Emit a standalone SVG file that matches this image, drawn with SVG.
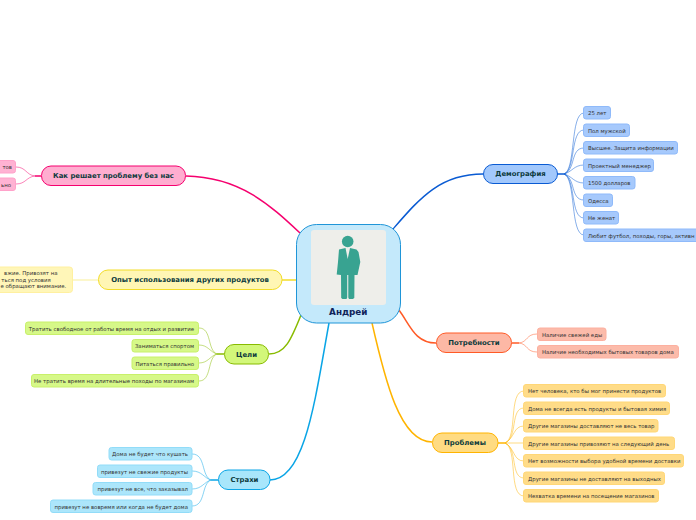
<svg xmlns="http://www.w3.org/2000/svg" width="696" height="520" viewBox="0 0 696 520">
<style>
text{font-family:"DejaVu Sans",Verdana,sans-serif}
.t{font-size:6.9px;font-weight:700;fill:#0c3a3c;text-anchor:middle}
.l{font-size:5.4px;fill:#333}
.r{text-anchor:end}
.n{stroke-width:1}
.c{fill:none;stroke-width:1.5}
.s{fill:none;stroke-width:.9;opacity:.55}
.b{stroke:#0a5bd3}.bf{fill:#a2c8fc}.bl{fill:#a6c9fc;stroke:#8fbafa}
.o{stroke:#ff5a26}.of{fill:#fdb8a5}.ol{fill:#fcbbaa;stroke:#fcb0a0}
.y{stroke:#ffb400}.yf{fill:#ffdb82}.yl{fill:#ffdc88;stroke:#ffd777}
.p{stroke:#f5006e}.pf{fill:#ffadd0}.pl{fill:#ffb2d3;stroke:#ffa2ca}
.e{stroke:#f2dc28}.ef{fill:#fff6b4}.el{fill:#fff6b8;stroke:#fff0a0}
.g{stroke:#88bb00}.gf{fill:#d2f77a}.gl{fill:#d6f888;stroke:#c8f06a}
.u{stroke:#0aa5e6}.uf{fill:#a8e6fb}.ul{fill:#ace6fb;stroke:#92dcf8}
</style>
<g id="connectors">
<path class="c b" d="M393 229C420 198 440 174 483 174"/>
<path class="c p" d="M300 233C270 205 240 177 186 176"/>
<path class="c e" d="M297 280L282 280"/>
<path class="c g" d="M301 315C291 340 285 354 269 354"/>
<path class="c u" d="M329 323C315 400 305 480 270 480"/>
<path class="c y" d="M372 323C385 380 400 442 432 442"/>
<path class="c o" d="M399 310C410 325 415 343 436 343"/>
<path class="c b" d="M557 174L564 174"/>
<g class="b">
<path class="s" d="M564 174C576 170 570 113 584 113"/>
<path class="s" d="M564 174C576 170 570 130 584 130"/>
<path class="s" d="M564 174C576 170 570 148 584 148"/>
<path class="s" d="M564 174C572 172 574 165 584 165"/>
<path class="s" d="M564 174C572 176 574 183 584 183"/>
<path class="s" d="M564 174C576 178 570 200 584 200"/>
<path class="s" d="M564 174C576 178 570 218 584 218"/>
<path class="s" d="M564 174C576 178 570 235 584 235"/>
</g>
<path class="c o" d="M512 343L519 343"/>
<g class="o">
<path class="s" d="M519 343C528 342 526 334 537 334"/>
<path class="s" d="M519 343C528 344 526 352 537 352"/>
</g>
<path class="c y" d="M498 443L505 443"/>
<g class="y">
<path class="s" d="M505 443C518 438 508 391 524 391"/>
<path class="s" d="M505 443C518 438 510 408 524 408"/>
<path class="s" d="M505 443C515 438 513 426 524 426"/>
<path class="s" d="M505 443L524 443"/>
<path class="s" d="M505 443C515 448 513 461 524 461"/>
<path class="s" d="M505 443C518 448 510 478 524 478"/>
<path class="s" d="M505 443C518 448 508 496 524 496"/>
</g>
<path class="c p" d="M41 176L35 176"/>
<g class="p">
<path class="s" d="M35 176C26 175 26 167 16 167"/>
<path class="s" d="M35 176C26 177 26 184 16 184"/>
</g>
<path class="s e" d="M98 280L73 280"/>
<path class="c g" d="M224 354L217 354"/>
<g class="g">
<path class="s" d="M217 354C207 350 212 328 199 328"/>
<path class="s" d="M217 354C210 352 208 345 199 345"/>
<path class="s" d="M217 354C210 356 208 363 199 363"/>
<path class="s" d="M217 354C207 358 212 381 199 381"/>
</g>
<path class="c u" d="M218 480L211 480"/>
<g class="u">
<path class="s" d="M211 480C201 476 206 454 192 454"/>
<path class="s" d="M211 480C204 478 202 471 192 471"/>
<path class="s" d="M211 480C204 482 202 489 192 489"/>
<path class="s" d="M211 480C201 484 206 506 192 506"/>
</g>
</g>
<g id="center">
<rect x="296.500" y="224.500" width="104" height="98.500" rx="20" fill="#c4e9fb" stroke="#1f95d8"/>
<rect x="311" y="230" width="75" height="75" rx="3" fill="#eeeeea"/>
<g fill="#38a391">
<circle cx="347.700" cy="241.500" r="5.800"/>
<path d="M339 249.500L345.500 248L347.700 259L350 248L356.500 249.500L358.500 252L360.300 262L357.500 275L354.500 275L354.300 298L352.800 299H349L348.300 297.500V275H347.200V297.500L346.500 299H342.500L341.200 298L341 275L336.700 274.500L338 262Z"/>
</g>
<text x="348.300" y="315" font-size="8.800" font-weight="700" fill="#10245a" text-anchor="middle">Андрей</text>
</g>
<g id="demography">
<rect class="n b bf" x="483.500" y="164.500" width="74" height="19" rx="9.500"/>
<text class="t" x="520.500" y="176">Демография</text>
<rect class="n bl" x="583.500" y="106.500" width="27" height="12.500" rx="2.500"/><text class="l" x="588" y="115">25 лет</text>
<rect class="n bl" x="583.500" y="124" width="46" height="12.500" rx="2.500"/><text class="l" x="588" y="132.500">Пол мужской</text>
<rect class="n bl" x="583.500" y="141.500" width="94" height="12.500" rx="2.500"/><text class="l" x="588" y="150">Высшее. Защита информации</text>
<rect class="n bl" x="583.500" y="159" width="70" height="12.500" rx="2.500"/><text class="l" x="588" y="167.500">Проектный менеджер</text>
<rect class="n bl" x="583.500" y="176.500" width="51.500" height="12.500" rx="2.500"/><text class="l" x="588" y="185">1500 долларов</text>
<rect class="n bl" x="583.500" y="194" width="29" height="12.500" rx="2.500"/><text class="l" x="588" y="202.500">Одесса</text>
<rect class="n bl" x="583.500" y="211.500" width="35" height="12.500" rx="2.500"/><text class="l" x="588" y="220">Не женат</text>
<rect class="n bl" x="583.500" y="229" width="130" height="12.500" rx="2.500"/><text class="l" x="588" y="237.500">Любит футбол, походы, горы, активн</text>
</g>
<g id="needs">
<rect class="n o of" x="436.500" y="333" width="75" height="19.500" rx="9.500"/>
<text class="t" x="474" y="345.300">Потребности</text>
<rect class="n ol" x="537.500" y="328" width="68.500" height="12.500" rx="2.500"/><text class="l" x="542" y="336.500">Наличие свежей еды</text>
<rect class="n ol" x="537.500" y="345.500" width="141" height="12.500" rx="2.500"/><text class="l" x="542" y="354">Наличие необходимых бытовых товаров дома</text>
</g>
<g id="problems">
<rect class="n y yf" x="432.500" y="433" width="65.500" height="19.500" rx="9.500"/>
<text class="t" x="465" y="445.300">Проблемы</text>
<rect class="n yl" x="523.500" y="384.500" width="142" height="12.500" rx="2.500"/><text class="l" x="528" y="393">Нет человека, кто бы мог принести продуктов</text>
<rect class="n yl" x="523.500" y="402" width="146" height="12.500" rx="2.500"/><text class="l" x="528" y="410.500">Дома не всегда есть продукты и бытовая химия</text>
<rect class="n yl" x="523.500" y="419.500" width="134.500" height="12.500" rx="2.500"/><text class="l" x="528" y="428">Другие магазины доставляют не весь товар</text>
<rect class="n yl" x="523.500" y="437" width="151" height="12.500" rx="2.500"/><text class="l" x="528" y="445.500">Другие магазины привозяют на следующий день</text>
<rect class="n yl" x="523.500" y="454.500" width="160" height="12.500" rx="2.500"/><text class="l" x="528" y="463">Нет возможности выбора удобной времени доставки</text>
<rect class="n yl" x="523.500" y="472" width="141" height="12.500" rx="2.500"/><text class="l" x="528" y="480.500">Другие магазины не доставляют на выходных</text>
<rect class="n yl" x="523.500" y="489.500" width="135" height="12.500" rx="2.500"/><text class="l" x="528" y="498">Нехватка времени на посещение магазинов</text>
</g>
<g id="solving">
<rect class="n p pf" x="41.500" y="166" width="144" height="19.500" rx="9.500"/>
<text class="t" x="113.500" y="178.300">Как решает проблему без нас</text>
<rect class="n pl" x="-5" y="160.500" width="20.500" height="12.500" rx="2.500"/><text class="l r" x="12" y="169">тов</text>
<rect class="n pl" x="-5" y="178" width="20.500" height="12.500" rx="2.500"/><text class="l r" x="11" y="186.500">ьно</text>
</g>
<g id="experience">
<rect class="n e ef" x="98.500" y="270" width="183.500" height="19.500" rx="9.500"/>
<text class="t" x="190" y="282.300">Опыт использования других продуктов</text>
<rect class="n el" x="-10" y="267" width="82.500" height="25.500" rx="3"/>
<text class="l r" x="57.500" y="275.300">вжие. Привозят на</text>
<text class="l r" x="50.700" y="281.800">ться под условия</text>
<text class="l r" x="66.300" y="288.200">е обращают внимание.</text>
</g>
<g id="goals">
<rect class="n g gf" x="224.500" y="344.500" width="44" height="19.500" rx="9.500"/>
<text class="t" x="246.500" y="356.800">Цели</text>
<rect class="n gl" x="25.500" y="322" width="173" height="12.500" rx="2.500"/><text class="l r" x="194" y="330.500">Тратить свободное от работы время на отдых и развитие</text>
<rect class="n gl" x="132" y="339.500" width="66.500" height="12.500" rx="2.500"/><text class="l r" x="194" y="348">Заниматься спортом</text>
<rect class="n gl" x="132" y="357" width="66.500" height="12.500" rx="2.500"/><text class="l r" x="194" y="365.500">Питаться правильно</text>
<rect class="n gl" x="31.500" y="374.500" width="167" height="12.500" rx="2.500"/><text class="l r" x="194" y="383">Не тратить время на длительные походы по магазинам</text>
</g>
<g id="fears">
<rect class="n u uf" x="218.500" y="470" width="51.500" height="19.500" rx="9.500"/>
<text class="t" x="244.500" y="482.300">Страхи</text>
<rect class="n ul" x="109" y="447.500" width="83" height="12.500" rx="2.500"/><text class="l r" x="188" y="456">Дома не будет что кушать</text>
<rect class="n ul" x="97.500" y="465" width="94.500" height="12.500" rx="2.500"/><text class="l r" x="188" y="473.500">привезут не свежие продукты</text>
<rect class="n ul" x="93" y="482.500" width="99" height="12.500" rx="2.500"/><text class="l r" x="188" y="491">привезут не все, что заказывал</text>
<rect class="n ul" x="50.500" y="500" width="141.500" height="12.500" rx="2.500"/><text class="l r" x="188" y="508.500">привезут не вовремя или когда не будет дома</text>
</g>
</svg>
